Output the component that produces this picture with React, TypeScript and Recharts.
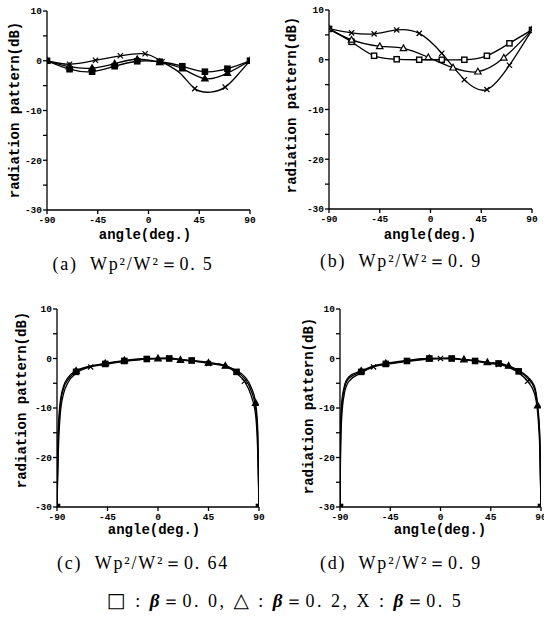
import React from "react";
import { LineChart, Line, XAxis, YAxis } from "recharts";

// (a) Wp²/W² = 0.5
const aAngles = [-90, -70, -50, -30, -10, 10, 30, 50, 70, 90];
const aSquare = [0, -1.7, -2.2, -1.1, -0.1, -0.2, -1.1, -2.2, -1.6, 0];
const aTriangle = [0, -1.2, -1.5, -0.6, 0.3, -0.3, -1.6, -3.6, -2.5, 0];
const aCrossAngles = [-90, -70, -47, -25, -3, 12, 28, 41, 55, 68, 80, 90];
const aCross = [0, -0.7, 0.1, 1.0, 1.4, -0.2, -2.5, -5.6, -6.3, -5.3, -2.6, 0];
const aCrossMarks = [-70, -47, -25, -3, 12, 41, 68, 90];

// (b) Wp²/W² = 0.9
const bAngles = [-90, -70, -50, -30, -10, 10, 30, 50, 70, 90];
const bSquare = [6.2, 3.6, 0.8, 0.1, 0, 0, 0, 0.8, 3.3, 6.0];
const bTriAngles = [-90, -70, -45, -24, -2, 20, 42, 65, 90];
const bTriangle = [6.2, 4.0, 2.7, 2.3, 0.5, -1.6, -2.4, 0.4, 6.0];
const bCross = [6.2, 5.4, 5.2, 6.0, 5.3, 1.3, -4.0, -6.0, -1.1, 6.0];

// (c) Wp²/W² = 0.64
const cAngles = [-90, -89, -87, -84, -80, -73, -60, -47, -30, -10, 0, 10, 20, 30, 45, 60, 70, 77, 83, 87, 89, 90];
const cSquare = [-30, -17, -9.5, -6, -4.2, -2.7, -1.6, -1.1, -0.5, -0.1, 0, 0, -0.2, -0.4, -0.8, -1.4, -2.7, -4, -6.5, -10, -17, -30];
const cTriangle = [-30, -15, -8.5, -5.5, -3.8, -2.5, -1.5, -1.0, -0.4, 0, 0, 0, -0.3, -0.5, -0.9, -1.5, -2.5, -3.6, -5.8, -9, -15, -30];
const cCross = [-30, -20, -11, -7, -4.8, -3.0, -1.7, -1.2, -0.6, -0.1, 0, 0.1, -0.2, -0.5, -1.0, -1.6, -3.0, -4.6, -7.5, -11.5, -20, -30];
const cSquareMarks = [-90, -73, -47, -30, -10, 10, 30, 70, 90];
const cTriangleMarks = [-73, -47, -30, 0, 20, 45, 60, 87];
const cCrossMarks = [-60, -10, 10, 30, 45, 77];

// (d) Wp²/W² = 0.9
const dAngles = [-90, -89.5, -88.5, -86, -82, -71, -60, -49, -30, -10, 0, 10, 21, 31, 42, 52, 61, 70, 78, 84, 87, 89, 90];
const dSquare = [-30, -16, -10, -6, -4, -2.7, -1.6, -1.1, -0.5, 0, 0, 0, -0.3, -0.5, -0.9, -1.0, -1.6, -2.6, -4, -6, -10, -17, -30];
const dTriangle = [-30, -15, -9, -5.5, -3.7, -2.5, -1.5, -1.0, -0.4, 0, 0, 0, -0.2, -0.4, -0.8, -1.0, -1.5, -2.4, -3.7, -5.5, -9.5, -16, -30];
const dCross = [-30, -19, -12, -7, -4.6, -2.9, -1.7, -1.2, -0.6, -0.1, 0, 0.1, -0.3, -0.5, -1.0, -1.2, -1.8, -2.9, -4.6, -7, -11, -19, -30];
const dSquareMarks = [-90, -71, -49, -30, -10, 10, 31, 52, 70, 90];
const dTriangleMarks = [-71, -49, -10, 21, 42, 61, 87];
const dCrossMarks = [-60, 0, 31, 52, 78];

const xTicks = [-90, -45, 0, 45, 90];
const yTicks = [-30, -25, -20, -15, -10, -5, 0, 5, 10];

const MONO = '"Liberation Mono", "DejaVu Sans Mono", monospace';
const SERIF = '"Liberation Serif", "DejaVu Serif", serif';

type Shape = "square" | "triangle" | "cross";

const toPts = (angles: number[], values: number[]) => angles.map((a, i) => ({ a, v: values[i] }));

function markDot(shape: Shape, filled: boolean, marks?: number[]) {
  return (props: any) => {
    const { cx, cy, payload, index } = props;
    const key = `m-${shape}-${index}`;
    if (cx == null || cy == null || (marks && !marks.includes(payload.a))) return <g key={key} />;
    if (shape === "square") {
      return (
        <rect key={key} x={cx - 2.6} y={cy - 2.6} width={5.2} height={5.2}
          fill={filled ? "#000" : "#fff"} stroke="#000" strokeWidth={1.4} />
      );
    }
    if (shape === "triangle") {
      return (
        <path key={key} d={`M${cx},${cy - 3.4}L${cx + 3.2},${cy + 2.3}L${cx - 3.2},${cy + 2.3}Z`}
          fill={filled ? "#000" : "#fff"} stroke="#000" strokeWidth={1.2} />
      );
    }
    return (
      <path key={key} d={`M${cx - 2.6},${cy - 2.6}L${cx + 2.6},${cy + 2.6}M${cx - 2.6},${cy + 2.6}L${cx + 2.6},${cy - 2.6}`}
        stroke="#000" strokeWidth={1.2} fill="none" />
    );
  };
}

type Series = {
  data: { a: number; v: number }[];
  shape: Shape;
  filled: boolean;
  marks?: number[];
  curve: "natural" | "monotone";
};

function Panel({
  left, top, width, height, yWidth, xHeight, right, mTop, series,
}: {
  left: number; top: number; width: number; height: number;
  yWidth: number; xHeight: number; right: number; mTop: number; series: Series[];
}) {
  const tickStyle = { fontSize: 9.5, fontWeight: 700, fill: "#000", fontFamily: MONO };
  return (
    <div style={{ position: "absolute", left, top }}>
      <LineChart width={width} height={height} margin={{ top: mTop, right, bottom: 0, left: 0 }}>
        <XAxis type="number" dataKey="a" domain={[-90, 90]} ticks={xTicks} interval={0}
          height={xHeight} allowDataOverflow stroke="#000" strokeWidth={1.3}
          tickSize={4} tickMargin={2} tick={tickStyle} />
        <YAxis type="number" dataKey="v" domain={[-30, 10]} ticks={yTicks} interval={0}
          width={yWidth} allowDataOverflow stroke="#000" strokeWidth={1.3}
          tickSize={4} tickMargin={1} tick={tickStyle}
          tickFormatter={(v: number) => (v % 10 === 0 ? String(v) : "")} />
        {series.map((s, i) => (
          <Line key={i} data={s.data} dataKey="v" type={s.curve} stroke="#000" strokeWidth={1.3}
            dot={markDot(s.shape, s.filled, s.marks)} activeDot={false} isAnimationActive={false} />
        ))}
      </LineChart>
    </div>
  );
}

function YTitle({ x, y }: { x: number; y: number }) {
  return (
    <div style={{
      position: "absolute", left: x, top: y, transform: "translate(-50%, -50%) rotate(-90deg)",
      whiteSpace: "nowrap", fontFamily: MONO, fontWeight: 700, fontSize: 14, lineHeight: "14px",
    }}>
      radiation pattern(dB)
    </div>
  );
}

function XTitle({ x, y }: { x: number; y: number }) {
  return (
    <div style={{
      position: "absolute", left: x, top: y, transform: "translate(-50%, -50%)",
      whiteSpace: "nowrap", fontFamily: MONO, fontWeight: 700, fontSize: 14, lineHeight: "14px",
    }}>
      angle(deg.)
    </div>
  );
}

function Caption({ x, y, children, spacing = 1.8 }: { x: number; y: number; children: React.ReactNode; spacing?: number }) {
  return (
    <div style={{
      position: "absolute", left: x, top: y, transform: "translate(-50%, -50%)",
      whiteSpace: "nowrap", fontFamily: SERIF, fontSize: 18, lineHeight: "20px", letterSpacing: spacing,
    }}>
      {children}
    </div>
  );
}

const beta = <i style={{ fontWeight: 700, fontSize: 19 }}>β</i>;
const sym = (c: string) => <span style={{ fontSize: 20, fontFamily: '"DejaVu Sans", sans-serif' }}>{c}</span>;

export default function App() {
  const panelA: Series[] = [
    { data: toPts(aAngles, aSquare), shape: "square", filled: true, curve: "natural" },
    { data: toPts(aAngles, aTriangle), shape: "triangle", filled: true, curve: "natural" },
    { data: toPts(aCrossAngles, aCross), shape: "cross", filled: false, marks: aCrossMarks, curve: "natural" },
  ];
  const panelB: Series[] = [
    { data: toPts(bAngles, bSquare), shape: "square", filled: false, curve: "natural" },
    { data: toPts(bTriAngles, bTriangle), shape: "triangle", filled: false, curve: "natural" },
    { data: toPts(bAngles, bCross), shape: "cross", filled: false, curve: "natural" },
  ];
  const panelC: Series[] = [
    { data: toPts(cAngles, cSquare), shape: "square", filled: true, marks: cSquareMarks, curve: "monotone" },
    { data: toPts(cAngles, cTriangle), shape: "triangle", filled: true, marks: cTriangleMarks, curve: "monotone" },
    { data: toPts(cAngles, cCross), shape: "cross", filled: false, marks: cCrossMarks, curve: "monotone" },
  ];
  const panelD: Series[] = [
    { data: toPts(dAngles, dSquare), shape: "square", filled: true, marks: dSquareMarks, curve: "monotone" },
    { data: toPts(dAngles, dTriangle), shape: "triangle", filled: true, marks: dTriangleMarks, curve: "monotone" },
    { data: toPts(dAngles, dCross), shape: "cross", filled: false, marks: dCrossMarks, curve: "monotone" },
  ];

  return (
    <div style={{ position: "absolute", left: 0, top: 0, width: 544, height: 623, background: "#fff", overflow: "hidden", color: "#000" }}>
      <Panel left={0} top={0} width={272} height={250} yWidth={47} xHeight={40} right={22} mTop={11} series={panelA} />
      <Panel left={272} top={0} width={272} height={250} yWidth={57} xHeight={41} right={12} mTop={10} series={panelB} />
      <Panel left={0} top={290} width={272} height={260} yWidth={57} xHeight={43} right={13} mTop={19} series={panelC} />
      <Panel left={272} top={290} width={272} height={260} yWidth={68} xHeight={43} right={3} mTop={19} series={panelD} />

      <YTitle x={15} y={110} />
      <YTitle x={292} y={105} />
      <YTitle x={22} y={400} />
      <YTitle x={309} y={406} />

      <XTitle x={145} y={235} />
      <XTitle x={430} y={235} />
      <XTitle x={154} y={530} />
      <XTitle x={440} y={530} />

      <Caption x={133} y={264}>(a)&nbsp; Wp²/W²＝0. 5</Caption>
      <Caption x={401} y={261}>(b)&nbsp; Wp²/W²＝0. 9</Caption>
      <Caption x={143} y={563}>(c)&nbsp; Wp²/W²＝0. 64</Caption>
      <Caption x={401} y={563}>(d)&nbsp; Wp²/W²＝0. 9</Caption>
      <Caption x={285} y={600} spacing={2.5}>
        {sym("□")} : {beta}＝0. 0, {sym("△")} : {beta}＝0. 2, X : {beta}＝0. 5
      </Caption>
    </div>
  );
}
